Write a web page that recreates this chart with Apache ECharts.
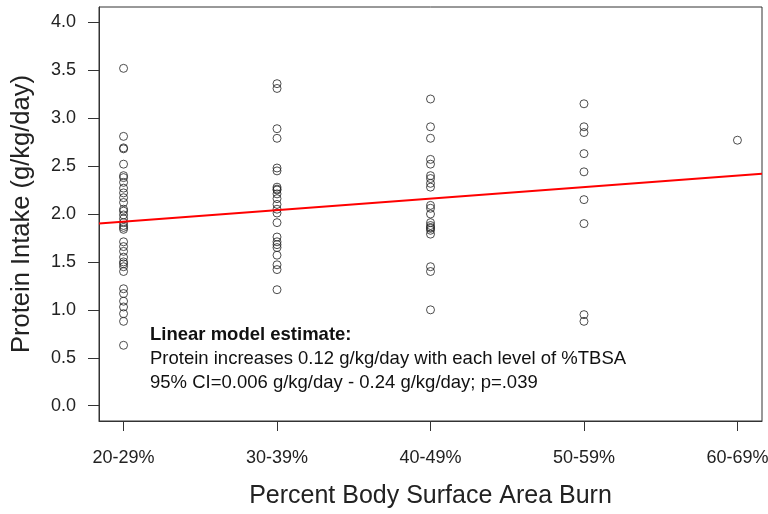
<!DOCTYPE html>
<html lang="en">
<head>
  <meta charset="UTF-8">
  <title>Protein intake by burn size</title>
  <style>
    html, body { margin: 0; padding: 0; background: #fff; }
    #chart { width: 768px; height: 514px; }
  </style>
</head>
<body>
<div id="chart"></div>
<script src="https://cdn.jsdelivr.net/npm/echarts@6/dist/echarts.min.js"></script>
<script>
// burn size groups, one x position per group
var categories = ['20-29%', '30-39%', '40-49%', '50-59%', '60-69%']
var yTicks = [0, 0.5, 1, 1.5, 2, 2.5, 3, 3.5, 4]

// protein intake (g/kg/day), per group
var g20 = [3.52, 2.81, 2.69, 2.68, 2.52, 2.40, 2.38, 2.33, 2.27, 2.22, 2.17, 2.12, 2.05, 2.03, 1.99, 1.95, 1.91, 1.88, 1.86, 1.84, 1.71, 1.66, 1.61, 1.55, 1.50, 1.48, 1.45, 1.40, 1.22, 1.17, 1.09, 1.03, 0.96, 0.88, 0.63]
var g30 = [3.36, 3.31, 2.89, 2.79, 2.48, 2.45, 2.28, 2.26, 2.25, 2.21, 2.16, 2.10, 2.05, 2.01, 1.91, 1.76, 1.71, 1.68, 1.65, 1.57, 1.47, 1.42, 1.21]
var g40 = [3.20, 2.91, 2.79, 2.57, 2.52, 2.40, 2.37, 2.32, 2.28, 2.09, 2.06, 2.00, 1.91, 1.88, 1.86, 1.85, 1.83, 1.79, 1.45, 1.40, 1.00]
var g50 = [3.15, 2.91, 2.85, 2.63, 2.44, 2.15, 1.90, 0.95, 0.88]
var g60 = [2.77]

// fitted line, ends at the plot edges
var fitX = [0.84, 5.16]
var fitY = [1.90, 2.42]

var notes = [
  'Linear model estimate:',
  'Protein increases 0.12 g/kg/day with each level of %TBSA',
  '95% CI=0.006 g/kg/day - 0.24 g/kg/day; p=.039'
]

var groups = [g20, g30, g40, g50, g60]
var points = []
groups.forEach(function (vals, i) {
  vals.forEach(function (v) { points.push([i + 1, v]) })
})
var fitLine = fitX.map(function (x, i) { return [x, fitY[i]] })

var font = 'Liberation Sans, Arial, sans-serif'
var ink = '#222'

var chart = echarts.init(document.getElementById('chart'))
var option = {
  animation: false,
  grid: {
    left: 99, right: 6, top: 7, bottom: 93,
    outerBoundsMode: 'none',
    show: true, borderColor: '#333', borderWidth: 1
  },
  xAxis: {
    type: 'value',
    min: 0.84, max: 5.16,
    name: 'Percent Body Surface Area Burn',
    nameLocation: 'middle',
    nameGap: 63,
    nameTextStyle: { fontFamily: font, fontSize: 25, color: ink },
    splitLine: { show: false },
    axisLine: { show: true, onZero: false, lineStyle: { color: '#333' } },
    axisTick: { show: true, length: 10, customValues: [1, 2, 3, 4, 5], lineStyle: { color: '#333' } },
    axisLabel: {
      customValues: [1, 2, 3, 4, 5],
      margin: 28,
      fontFamily: font, fontSize: 18, color: ink,
      formatter: function (v) { return categories[Math.round(v) - 1] }
    }
  },
  yAxis: {
    type: 'value',
    min: -0.16, max: 4.16,
    name: 'Protein Intake (g/kg/day)',
    nameLocation: 'middle',
    nameGap: 64,
    nameTextStyle: { fontFamily: font, fontSize: 25.5, color: ink },
    splitLine: { show: false },
    axisLine: { show: true, onZero: false, lineStyle: { color: '#333' } },
    axisTick: { show: true, length: 11, customValues: yTicks, lineStyle: { color: '#333' } },
    axisLabel: {
      customValues: yTicks,
      margin: 23,
      fontFamily: font, fontSize: 18, color: ink,
      formatter: function (v) { return v.toFixed(1) }
    }
  },
  graphic: notes.map(function (t, i) {
    return {
      type: 'text',
      left: 150,
      top: 325 + i * 24,
      style: {
        text: t,
        font: (i === 0 ? 'bold ' : '') + '18.5px ' + font,
        fill: '#111'
      }
    }
  }),
  series: [
    {
      type: 'scatter',
      data: points,
      symbol: 'circle',
      symbolSize: 8,
      itemStyle: { color: 'rgba(0,0,0,0)', borderColor: '#222', borderWidth: 1 }
    },
    {
      type: 'line',
      data: fitLine,
      showSymbol: false,
      lineStyle: { color: '#ff0000', width: 2 },
      z: 3
    }
  ]
}
chart.setOption(option)
</script>
</body>
</html>
